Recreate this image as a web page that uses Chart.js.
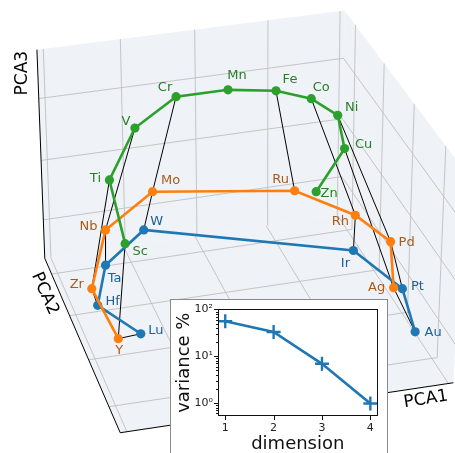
<!DOCTYPE html>
<html>
<head>
<meta charset="utf-8">
<script src="https://cdn.jsdelivr.net/npm/chart.js@4/dist/chart.umd.min.js"></script>
<style>
  html, body { margin: 0; padding: 0; background: #fff; overflow: hidden; }
  #wrap { position: relative; width: 455px; height: 453px; overflow: hidden; }
  #main { position: absolute; left: 0; top: 0; }
  #insetBox { position: absolute; left: 170px; top: 299px; width: 216px; height: 170px;
              border: 1px solid #8a8a8a; background: #fff; }
  #inset { position: absolute; left: 0; top: 0; }
</style>
</head>
<body>
<div id="wrap">
  <canvas id="main" width="455" height="453"></canvas>
  <div id="insetBox"><canvas id="inset" width="216" height="155"></canvas></div>
</div>
<script>
// Transition-metal rows, projected into the view plane (x to the right, y downward)
const row3d  = ['Sc', 'Ti', 'V', 'Cr', 'Mn', 'Fe', 'Co', 'Ni', 'Cu', 'Zn'];
const row3dX = [123, 107, 133, 175, 228, 277, 313, 340, 347, 318];
const row3dY = [244, 179, 126,  94,  87,  88,  96, 113, 147, 191];

const row4d  = ['Y', 'Zr', 'Nb', 'Mo', 'Ru', 'Rh', 'Pd', 'Ag'];
const row4dX = [116,  89, 103, 151, 296, 358, 394, 397];
const row4dY = [341, 290, 230, 191, 190, 215, 242, 289];

const row5d  = ['Lu', 'Hf', 'Ta', 'W', 'Ir', 'Pt', 'Au'];
const row5dX = [139,  95, 103, 142, 356, 406, 419];
const row5dY = [336, 307, 266, 230, 251, 290, 334];

// Elements of the same periodic-table group, joined by thin lines
const groups = [
  ['Sc', 'Y', 'Lu'], ['Ti', 'Zr', 'Hf'], ['V', 'Nb', 'Ta'], ['Cr', 'Mo', 'W'],
  ['Fe', 'Ru'], ['Co', 'Rh', 'Ir'], ['Ni', 'Pd', 'Pt'], ['Cu', 'Ag', 'Au']
];

// Explained variance (%) of each principal component
const dims = [1, 2, 3, 4];
const variance = [56, 33, 6.9, 0.98];
const varianceTicks = [1, 10, 100];

// ---------- layout and style ----------
const COLORS = {
  row3d: { line: '#2ca02c', text: '#2a7d2a' },
  row4d: { line: '#ff7f0e', text: '#a85c1c' },
  row5d: { line: '#1f77b4', text: '#1d6196' }
};
const FONT = 'DejaVu Sans';

// where each element label sits relative to its marker
const labelOffset = {
  Sc: [15, 8], Ti: [-14, -1], V: [-9, -6], Cr: [-11, -9], Mn: [9, -14], Fe: [14, -11],
  Co: [10, -11], Ni: [14, -8], Cu: [19, -4], Zn: [13, 2],
  Y: [1, 12], Zr: [-15, -4], Nb: [-17, -3], Mo: [18, -11], Ru: [-14, -11], Rh: [-15, 6],
  Pd: [16, 1], Ag: [-17, 0],
  Lu: [15, -3], Hf: [15, -4], Ta: [9, 13], W: [13, -8], Ir: [-8, 13], Pt: [15, -2], Au: [18, 1]
};

// corners of the 3D box in view coordinates
const box = {
  LT: [33, 46], L: [41, 259], F: [118, 437],
  BT: [347, 6], B: [344, 214], R: [458, 386], RT: [468, 168]
};
// grid positions as fractions of each box edge
const uGrid = [0.02, 0.265, 0.505, 0.745, 0.985];   // PCA1
const sGrid = [0.10, 0.355, 0.61, 0.865];           // PCA2 (from the back)
const wGrid = [0.19, 0.478, 0.772];                 // PCA3

// ---------- helpers ----------
const pos = {};
function register(names, xs, ys) { names.forEach((n, i) => { pos[n] = { x: xs[i], y: ys[i] }; }); }
register(row3d, row3dX, row3dY);
register(row4d, row4dX, row4dY);
register(row5d, row5dX, row5dY);

// projective map from the unit square onto a quadrilateral (p00, p10, p11, p01)
function squareToQuad(q) {
  const [[x0, y0], [x1, y1], [x2, y2], [x3, y3]] = q;
  const dx1 = x1 - x2, dx2 = x3 - x2, dx3 = x0 - x1 + x2 - x3;
  const dy1 = y1 - y2, dy2 = y3 - y2, dy3 = y0 - y1 + y2 - y3;
  const den = dx1 * dy2 - dx2 * dy1;
  const g = (dx3 * dy2 - dx2 * dy3) / den;
  const h = (dx1 * dy3 - dx3 * dy1) / den;
  const a = x1 - x0 + g * x1, b = x3 - x0 + h * x3, c = x0;
  const d = y1 - y0 + g * y1, e = y3 - y0 + h * y3, f = y0;
  return (u, v) => { const w = g * u + h * v + 1; return [(a * u + b * v + c) / w, (d * u + e * v + f) / w]; };
}

const panes = [
  { quad: [box.L, box.B, box.BT, box.LT], uLines: uGrid, vLines: wGrid },   // back wall (PCA1 x PCA3)
  { quad: [box.B, box.R, box.RT, box.BT], uLines: sGrid, vLines: wGrid },   // side wall (PCA2 x PCA3)
  { quad: [box.L, box.B, box.R, box.F],   uLines: uGrid, vLines: sGrid }    // floor (PCA1 x PCA2)
];

const box3d = {
  id: 'box3d',
  beforeDatasetsDraw(chart) {
    const { ctx } = chart;
    const xs = chart.scales.x, ys = chart.scales.y;
    const P = p => [xs.getPixelForValue(p[0]), ys.getPixelForValue(p[1])];
    ctx.save();
    // pane faces
    panes.forEach(pn => {
      ctx.beginPath();
      pn.quad.forEach((c, i) => { const [x, y] = P(c); i ? ctx.lineTo(x, y) : ctx.moveTo(x, y); });
      ctx.closePath();
      ctx.fillStyle = 'rgb(239,242,246)';
      ctx.fill();
    });
    // grid lines
    ctx.strokeStyle = '#bfbfbf';
    ctx.lineWidth = 0.9;
    panes.forEach(pn => {
      const m = squareToQuad(pn.quad);
      const seg = (a, b) => {
        const [x1, y1] = P(a), [x2, y2] = P(b);
        ctx.beginPath(); ctx.moveTo(x1, y1); ctx.lineTo(x2, y2); ctx.stroke();
      };
      pn.uLines.forEach(u => seg(m(u, 0), m(u, 1)));
      pn.vLines.forEach(v => seg(m(0, v), m(1, v)));
    });
    // axis lines
    ctx.strokeStyle = '#000';
    ctx.lineWidth = 1;
    ctx.beginPath();
    let p = P(box.LT); ctx.moveTo(p[0], p[1]);
    p = P(box.L); ctx.lineTo(p[0], p[1]);
    p = P(box.F); ctx.lineTo(p[0], p[1]);
    p = P(box.R); ctx.lineTo(p[0], p[1]);
    ctx.stroke();
    // axis titles
    ctx.fillStyle = '#000';
    ctx.font = `17px "${FONT}"`;
    ctx.textAlign = 'center';
    ctx.textBaseline = 'middle';
    const title = (txt, at, deg) => {
      const [x, y] = P(at);
      ctx.save(); ctx.translate(x, y); ctx.rotate(deg * Math.PI / 180); ctx.fillText(txt, 0, 0); ctx.restore();
    };
    title('PCA3', [18, 70], -90);
    title('PCA2', [41, 295], 66);
    title('PCA1', [430, 403], -9);
    ctx.restore();
  }
};

const elementLabels = {
  id: 'elementLabels',
  afterDatasetsDraw(chart) {
    const { ctx } = chart;
    const xs = chart.scales.x, ys = chart.scales.y;
    ctx.save();
    ctx.font = `13px "${FONT}"`;
    ctx.textAlign = 'center';
    ctx.textBaseline = 'middle';
    [[row3d, COLORS.row3d], [row4d, COLORS.row4d], [row5d, COLORS.row5d]].forEach(([names, col]) => {
      ctx.fillStyle = col.text;
      names.forEach(n => {
        const o = labelOffset[n];
        ctx.fillText(n, xs.getPixelForValue(pos[n].x) + o[0], ys.getPixelForValue(pos[n].y) + o[1]);
      });
    });
    ctx.restore();
  }
};

const rowDataset = (names, col, order) => ({
  data: names.map(n => pos[n]),
  showLine: true,
  borderColor: col.line,
  backgroundColor: col.line,
  borderWidth: 2.6,
  pointRadius: 4.6,
  pointHoverRadius: 4.6,
  pointBorderWidth: 0,
  clip: false,
  order
});

const connectorSets = groups.map(g => ({
  data: g.map(n => pos[n]),
  showLine: true,
  borderColor: '#000',
  borderWidth: 1,
  pointRadius: 0,
  pointHoverRadius: 0,
  clip: false,
  order: 5
}));

new Chart(document.getElementById('main'), {
  type: 'scatter',
  data: {
    datasets: [
      rowDataset(row3d, COLORS.row3d, 0),
      rowDataset(row4d, COLORS.row4d, 1),
      rowDataset(row5d, COLORS.row5d, 2),
      ...connectorSets
    ]
  },
  options: {
    responsive: false,
    animation: false,
    devicePixelRatio: 1,
    layout: { padding: 0 },
    plugins: { legend: { display: false }, tooltip: { enabled: false } },
    scales: {
      x: { type: 'linear', min: 0, max: 455, display: false },
      y: { type: 'linear', min: 0, max: 453, reverse: true, display: false }
    }
  },
  plugins: [box3d, elementLabels]
});

// ---------- inset: explained variance ----------
const SUP = { '0': '\u2070', '1': '\u00b9', '2': '\u00b2', '3': '\u00b3' };

const insetFrame = {
  id: 'insetFrame',
  afterDraw(chart) {
    const { ctx, chartArea: a } = chart;
    const xs = chart.scales.x, ys = chart.scales.y;
    ctx.save();
    ctx.strokeStyle = '#111';
    ctx.lineWidth = 1;
    ctx.strokeRect(Math.round(a.left) + 0.5, Math.round(a.top) + 0.5,
                   Math.round(a.right - a.left) - 1, Math.round(a.bottom - a.top) - 1);
    ctx.beginPath();
    dims.forEach(d => {
      const x = Math.round(xs.getPixelForValue(d)) + 0.5;
      ctx.moveTo(x, a.bottom); ctx.lineTo(x, a.bottom + 4);
    });
    for (let e = -1; e <= 1; e++) {
      for (let k = 1; k <= 9; k++) {
        const v = k * Math.pow(10, e);
        if (v < ys.min || v > ys.max) continue;
        const y = Math.round(ys.getPixelForValue(v)) + 0.5;
        const len = k === 1 ? 4 : 2;
        ctx.moveTo(a.left, y); ctx.lineTo(a.left - len, y);
      }
    }
    const y100 = Math.round(ys.getPixelForValue(100)) + 0.5;
    ctx.moveTo(a.left, y100); ctx.lineTo(a.left - 4, y100);
    ctx.stroke();
    ctx.restore();
  }
};

new Chart(document.getElementById('inset'), {
  type: 'scatter',
  data: {
    datasets: [{
      data: dims.map((d, i) => ({ x: d, y: variance[i] })),
      showLine: true,
      borderColor: '#1f77b4',
      backgroundColor: '#1f77b4',
      borderWidth: 2.7,
      pointStyle: 'cross',
      pointRadius: 7,
      pointHoverRadius: 7,
      pointBorderWidth: 2.4
    }]
  },
  options: {
    responsive: false,
    animation: false,
    devicePixelRatio: 1,
    layout: { padding: { top: 6, right: 4, left: 0, bottom: 0 } },
    plugins: { legend: { display: false }, tooltip: { enabled: false } },
    scales: {
      x: {
        type: 'linear', min: 0.85, max: 4.15,
        afterBuildTicks: s => { s.ticks = dims.map(v => ({ value: v })); },
        afterFit: s => { s.height = 39; },
        grid: { display: false, drawTicks: true, tickLength: 4 },
        border: { display: false },
        ticks: { font: { family: FONT, size: 11 }, color: '#222', padding: 2, maxRotation: 0, autoSkip: false },
        title: { display: true, text: 'dimension', font: { family: FONT, size: 18 }, color: '#111',
                 padding: { top: 0, bottom: 0 } }
      },
      y: {
        type: 'logarithmic', min: 0.53, max: 100,
        afterBuildTicks: s => { s.ticks = varianceTicks.map(v => ({ value: v })); },
        afterFit: s => { s.width = 47; },
        grid: { display: false, drawTicks: true, tickLength: 4 },
        border: { display: false },
        ticks: {
          font: { family: FONT, size: 11 }, color: '#222', padding: 1, autoSkip: false,
          callback: v => '10' + SUP[String(Math.round(Math.log10(v)))]
        },
        title: { display: true, text: 'variance %', font: { family: FONT, size: 18 }, color: '#111',
                 padding: { top: 3, bottom: 0 } }
      }
    }
  },
  plugins: [insetFrame]
});
</script>
</body>
</html>
